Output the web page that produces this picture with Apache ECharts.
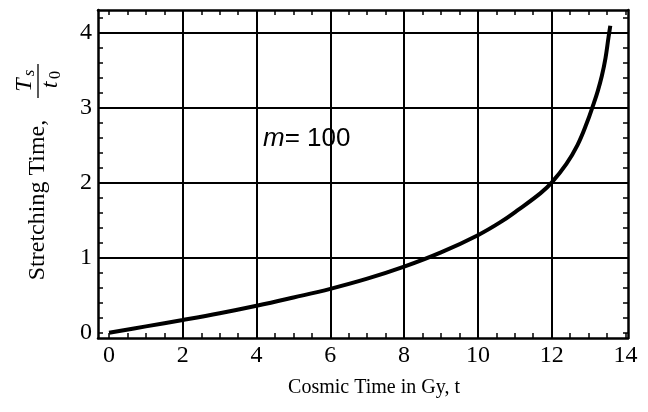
<!DOCTYPE html>
<html>
<head>
<meta charset="utf-8">
<script src="https://cdn.jsdelivr.net/npm/echarts@6/dist/echarts.min.js"></script>
<style>
  html, body { margin: 0; padding: 0; background: #fff; }
  #chart { width: 648px; height: 412px; }
</style>
</head>
<body>
<div id="chart"></div>
<script>
  // curve: cosmic time t (Gy) vs stretching time Ts/t0
  var cosmicTime = [0, 1, 2, 3, 4, 5, 6, 7, 8, 9, 10, 10.6, 11.1, 11.7, 12, 12.4, 12.7, 12.95, 13.13, 13.25, 13.36, 13.46, 13.54, 13.59]
  var stretching = [0, 0.085, 0.17, 0.26, 0.36, 0.47, 0.585, 0.72, 0.88, 1.07, 1.30, 1.47, 1.64, 1.86, 2.0, 2.25, 2.5, 2.79, 3.04, 3.22, 3.42, 3.66, 3.93, 4.09]

  var xLabels = [0, 2, 4, 6, 8, 10, 12, 14]
  var yLabels = [0, 1, 2, 3, 4]
  var xGrid = [2, 4, 6, 8, 10, 12]
  var yGrid = [1, 2, 3, 4]

  function steps(from, to, step) {
    var out = []
    for (var v = from; v <= to + 1e-9; v += step) out.push(Math.round(v * 100) / 100)
    return out
  }
  var xTicks = steps(0, 14, 0.5)
  var yTicks = steps(0, 4.2, 0.2)

  var serif = 'Liberation Serif'
  var frame = { show: true, onZero: false, lineStyle: { color: '#000', width: 2.5 } }

  function xAx(pos, labels) {
    return {
      type: 'value', position: pos, min: -0.3, max: 14.07,
      axisLine: frame,
      axisTick: { show: true, inside: true, length: 5, customValues: xTicks, lineStyle: { color: '#000', width: 1.5 } },
      axisLabel: { show: labels, customValues: xLabels, margin: 6, color: '#000', fontFamily: serif, fontSize: 24 },
      splitLine: { show: false }
    }
  }
  function yAx(pos, labels) {
    return {
      type: 'value', position: pos, min: -0.07, max: 4.3,
      axisLine: frame,
      axisTick: { show: true, inside: true, length: 5, customValues: yTicks, lineStyle: { color: '#000', width: 1.5 } },
      axisLabel: { show: labels, customValues: yLabels, margin: 6, color: '#000', fontFamily: serif, fontSize: 24 },
      splitLine: { show: false }
    }
  }

  var xa = xAx('bottom', true)
  xa.name = 'Cosmic Time in Gy, t'
  xa.nameLocation = 'middle'
  xa.nameGap = 40
  xa.nameTextStyle = { color: '#000', fontFamily: serif, fontSize: 20, padding: [0, 0, 0, 22] }

  var chart = echarts.init(document.getElementById('chart'), null, { renderer: 'canvas' })
  chart.setOption({
    animation: false,
    grid: { left: 98, right: 20, top: 10, bottom: 74 },
    xAxis: [xa, xAx('top', false)],
    yAxis: [yAx('left', true), yAx('right', false)],
    graphic: [
      {
        type: 'group', x: 38, y: 200, rotation: Math.PI / 2,
        children: [
          {
            type: 'text', x: 0, y: 0,
            style: { text: 'Stretching Time,', fill: '#000', font: '24px "Liberation Serif"', align: 'center', verticalAlign: 'middle' }
          }
        ]
      },
      {
        type: 'group', x: 38, y: 81, rotation: Math.PI / 2,
        children: [
          { type: 'text', x: -4, y: -13, style: { text: 'T', fill: '#000', font: 'italic 24px "Liberation Serif"', align: 'center', verticalAlign: 'middle' } },
          { type: 'text', x: 8, y: -8, style: { text: 's', fill: '#000', font: 'italic 17px "Liberation Serif"', align: 'center', verticalAlign: 'middle' } },
          { type: 'line', shape: { x1: -17, y1: 0, x2: 17, y2: 0 }, style: { stroke: '#000', lineWidth: 1.3 } },
          { type: 'text', x: -4, y: 13, style: { text: 't', fill: '#000', font: 'italic 24px "Liberation Serif"', align: 'center', verticalAlign: 'middle' } },
          { type: 'text', x: 6, y: 18, style: { text: '0', fill: '#000', font: '16px "Liberation Serif"', align: 'center', verticalAlign: 'middle' } }
        ]
      },
      {
        type: 'text', x: 263, y: 139,
        style: {
          text: '{m|m}= 100',
          rich: { m: { fontStyle: 'italic', fontFamily: 'Liberation Sans', fontSize: 26, fill: '#000' } },
          font: '26px "Liberation Sans"', fill: '#000', verticalAlign: 'middle'
        }
      }
    ],
    series: [{
      type: 'line',
      data: cosmicTime.map(function (t, i) { return [t, stretching[i]] }),
      smooth: 0.4,
      showSymbol: false,
      lineStyle: { color: '#000', width: 4 },
      z: 5,
      markLine: {
        silent: true,
        symbol: ['none', 'none'],
        label: { show: false },
        lineStyle: { color: '#000', width: 2, type: 'solid' },
        data: xGrid.map(function (v) { return { xAxis: v } }).concat(yGrid.map(function (v) { return { yAxis: v } }))
      }
    }]
  })
</script>
</body>
</html>
